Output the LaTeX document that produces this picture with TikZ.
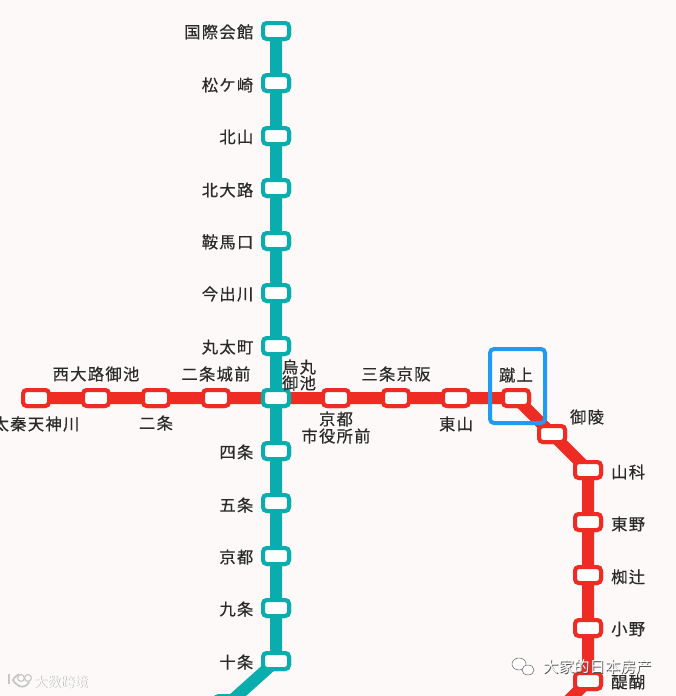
\documentclass[tikz,border=0pt]{standalone}
\usepackage{fontspec}
\newfontfamily\jp[LetterSpace=8,FakeBold=0.5]{Noto Sans CJK JP}
\newfontfamily\wm{Noto Sans CJK SC}
\definecolor{bgc}{HTML}{FDF9F8}
\definecolor{teal}{HTML}{0AADAD}
\definecolor{redl}{HTML}{EE2C24}
\definecolor{bluebox}{HTML}{2299F2}
\definecolor{txt}{HTML}{2A2A2A}
\tikzset{
  x=1pt,y=-1pt,
  redline/.style={draw=redl,line width=12pt},
  tealline/.style={draw=teal,line width=12pt},
  stn/.style={draw,fill=white,line width=4pt,rounded corners=4pt,minimum width=26pt,minimum height=16pt,inner sep=0pt},
  rstn/.style={stn,draw=redl},
  tstn/.style={stn,draw=teal},
  lab/.style={font=\jp\fontsize{16.3}{16}\selectfont,text=txt,inner sep=0pt},
  wmfont/.style={inner sep=0pt,anchor=west,font=\wm\fontsize{15.5}{16}\selectfont},
  wmsfont/.style={inner sep=0pt,anchor=west,font=\wm\fontsize{13.5}{14}\selectfont},
}
\begin{document}
\begin{tikzpicture}
\useasboundingbox (0,0) rectangle (676,696);
\clip (0,0) rectangle (676,696);
\fill[bgc] (0,0) rectangle (676,696);
% red stations
\foreach \n/\px/\py in {r1/36/398,r2/96/398,r3/156/398,r4/216/398,r6/336/398,r7/396/398,r8/456/398,r9/516/398,r10/552/434,r11/588/470,r12/588/522,r13/588/575,r14/588/628,r15/588/681}
  \node[rstn,name=\n] at (\px,\py) {};
\coordinate (redend) at (548,721);
\draw[redline] (r1.center) -- (r9.center) -- (r10.center) -- (r11.center) -- (r15.center) -- (redend);
\foreach \n/\px/\py in {r1/36/398,r2/96/398,r3/156/398,r4/216/398,r6/336/398,r7/396/398,r8/456/398,r9/516/398,r10/552/434,r11/588/470,r12/588/522,r13/588/575,r14/588/628,r15/588/681}
  \node[rstn] at (\px,\py) {};
% teal
\foreach \n/\py in {t1/31,t2/83,t3/136,t4/188,t5/241,t6/293,t7/346,t8/398,t9/451,t10/503,t11/556,t12/608,t13/661}
  \node[tstn,name=\n] at (276,\py) {};
\node[tstn] (t14) at (228,704) {};
\draw[tealline] (t1.center) -- (t13.center) -- (t14.center);
\foreach \n/\py in {t1/31,t2/83,t3/136,t4/188,t5/241,t6/293,t7/346,t8/398,t9/451,t10/503,t11/556,t12/608,t13/661}
  \node[tstn] at (276,\py) {};
\node[tstn] at (228,704) {};
% left labels on teal
\foreach \n/\py/\s in {l1/32/国際会館,l2/85/松ケ崎,l3/137/北山,l4/190/北大路,l5/242/鞍馬口,l6/294/今出川,l7/347/丸太町,l9/452/四条,l10/505/五条,l11/557/京都,l12/609/九条,l13/662/十条}
  \node[lab,anchor=east,name=\n] at (253.5,\py) {\s};
\node[lab,anchor=east] (l14) at (210,704) {くいな橋};
% red line labels
\node[lab] (a1) at (96,374) {西大路御池};
\node[lab] (a2) at (36,424) {太秦天神川};
\node[lab] (a3) at (156,423) {二条};
\node[lab] (a4) at (216,374) {二条城前};
\node[lab] (a5) at (299,367) {烏丸};
\node[lab] (a6) at (299,383) {御池};
\node[lab] (a7) at (336,419) {京都};
\node[lab] (a8) at (336,436) {市役所前};
\node[lab] (a9) at (396,374) {三条京阪};
\node[lab] (a10) at (456,424) {東山};
\node[lab] (a11) at (516,375) {蹴上};
\node[lab] (a12) at (587,417) {御陵};
\foreach \n/\py/\s in {b1/472/山科,b2/524/東野,b3/577/椥辻,b4/629/小野,b5/682/醍醐}
  \node[lab,anchor=west,name=\n] at (611,\py) {\s};
% highlight
\draw[bluebox,line width=4pt,rounded corners=4pt] (490,349) rectangle (545,423);
% watermarks
\node[wmfont,text=black!70] (w1s) at (543.7,667.7) {大家的日本房产};
\node[wmfont,text=white] (w1) at (543,667) {大家的日本房产};
\node[wmsfont,text=black!30] (w2s) at (34.6,682.6) {大数跨境};
\node[wmsfont,text=white] (w2) at (34,682) {大数跨境};
\fill[white,draw=black!60,line width=.5pt] (519,664) ellipse (7 and 6);
\fill[white,draw=black!60,line width=.5pt] (528,670) ellipse (6 and 5);
\draw[black!22,line width=1.8pt] (9,674) -- (9,684);
\draw[black!22,line width=1.8pt] (19,674) .. controls (11,680) .. (19,686) .. controls (24,688) and (28,685) .. (29,682);
\draw[black!22,line width=1.2pt] (21,678) circle (3.4);
\draw[black!22,line width=1.2pt] (28,678) circle (3.4);
\end{tikzpicture}
\end{document}
